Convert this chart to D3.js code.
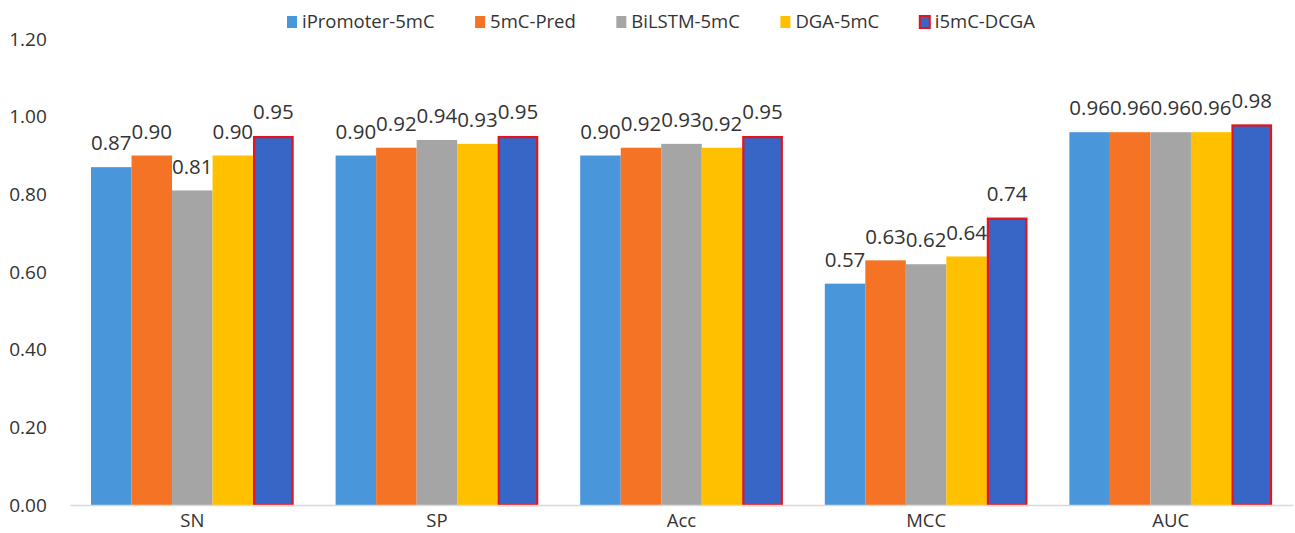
<!DOCTYPE html>
<html>
<head>
<meta charset="utf-8">
<script src="https://cdn.jsdelivr.net/npm/d3@7"></script>
<style>
  html, body { margin: 0; padding: 0; background: #fff; }
  svg { display: block; font-family: "Open Sans", "Noto Sans", sans-serif; }
</style>
</head>
<body>
<svg id="chart" width="1295" height="533"></svg>
<script>
// Metrics on the x axis
const categories = ["SN", "SP", "Acc", "MCC", "AUC"];
// Methods compared
const seriesNames = ["iPromoter-5mC", "5mC-Pred", "BiLSTM-5mC", "DGA-5mC", "i5mC-DCGA"];
// Scores per method, in the order of categories
const iPromoter5mC = [0.87, 0.90, 0.90, 0.57, 0.96];
const mCPred5 = [0.90, 0.92, 0.92, 0.63, 0.96];
const biLSTM5mC = [0.81, 0.94, 0.93, 0.62, 0.96];
const dga5mC = [0.90, 0.93, 0.92, 0.64, 0.96];
const i5mCDCGA = [0.95, 0.95, 0.95, 0.74, 0.98];
const seriesValues = [iPromoter5mC, mCPred5, biLSTM5mC, dga5mC, i5mCDCGA];
// Y axis ticks
const yTicks = [0, 0.2, 0.4, 0.6, 0.8, 1.0, 1.2];

(function () {
const colors = ["#4a96db", "#f57324", "#a5a5a5", "#ffc000", "#3866c6"];
const highlightStroke = "#e3141b";
const textColor = "#333333";

const svg = d3.select("#chart");
const plotLeft = 70, plotRight = 1293, plotTop = 39, plotBottom = 505;

const x0 = d3.scaleBand().domain(categories).range([plotLeft, plotRight]).padding(0);
const x1 = d3.scaleBand().domain(seriesNames)
  .range([21, x0.bandwidth() - 21]).padding(0);
const y = d3.scaleLinear().domain([0, 1.2]).range([plotBottom, plotTop]);

// Y axis labels (no axis line, no gridlines)
const yAxis = d3.axisLeft(y).tickValues(yTicks).tickFormat(d3.format(".2f")).tickSize(0).tickPadding(0);
const yg = svg.append("g").attr("transform", "translate(47,0)").call(yAxis);
yg.select(".domain").remove();
yg.selectAll("text")
  .attr("font-family", "'Open Sans', sans-serif")
  .attr("font-size", 19)
  .attr("fill", textColor)
  .attr("text-anchor", "middle")
  .attr("x", -19);

// Bars
const groups = svg.append("g").selectAll("g")
  .data(categories)
  .join("g")
  .attr("transform", d => `translate(${x0(d)},0)`);

groups.selectAll("rect")
  .data((c, ci) => seriesNames.map((s, si) => ({ s, si, v: seriesValues[si][ci] })))
  .join("rect")
  .attr("x", d => x1(d.s) + (d.si === 4 ? 1 : 0))
  .attr("y", d => y(d.v) + (d.si === 4 ? 1 : 0))
  .attr("width", d => x1.bandwidth() - (d.si === 4 ? 2 : 0))
  .attr("height", d => y(0) - y(d.v) - (d.si === 4 ? 1 : 0))
  .attr("fill", d => colors[d.si])
  .attr("stroke", d => d.si === 4 ? highlightStroke : "none")
  .attr("stroke-width", 2.2);

// Value labels
groups.selectAll("text.val")
  .data((c, ci) => seriesNames.map((s, si) => ({ s, si, v: seriesValues[si][ci] })))
  .join("text")
  .attr("class", "val")
  .attr("x", d => x1(d.s) + x1.bandwidth() / 2)
  .attr("y", d => y(d.v) - 24)
  .attr("dy", "0.35em")
  .attr("text-anchor", "middle")
  .attr("font-size", 20.5)
  .attr("fill", textColor)
  .text(d => d3.format(".2f")(d.v));

// X axis line and category names
const xAxis = d3.axisBottom(x0).tickSize(0).tickPadding(0);
const xg = svg.append("g").attr("transform", `translate(0,${plotBottom})`).call(xAxis);
xg.select(".domain").attr("stroke", "#d9d9d9").attr("stroke-width", 1.5);
xg.selectAll("text")
  .attr("font-family", "'Open Sans', sans-serif")
  .attr("font-size", 18.5)
  .attr("fill", textColor)
  .attr("y", 16)
  .attr("dy", "0.35em");

// Legend
const legend = svg.append("g");
const items = legend.selectAll("g").data(seriesNames).join("g");
items.append("rect")
  .attr("width", 10).attr("height", 12)
  .attr("y", 16)
  .attr("fill", (d, i) => colors[i])
  .attr("stroke", (d, i) => i === 4 ? highlightStroke : "none")
  .attr("stroke-width", 2);
items.append("text")
  .attr("x", 15)
  .attr("y", 22)
  .attr("dy", "0.35em")
  .attr("font-size", 18.5)
  .attr("fill", textColor)
  .text(d => d);
const widths = [];
items.each(function () {
  widths.push(15 + d3.select(this).select("text").node().getComputedTextLength());
});
const legendStart = 287, legendEnd = 1035;
const gap = (legendEnd - legendStart - d3.sum(widths)) / (widths.length - 1);
let start = legendStart;
items.attr("transform", (d, i) => {
  const t = `translate(${start},0)`;
  start += widths[i] + gap;
  return t;
});
})();
</script>
</body>
</html>
